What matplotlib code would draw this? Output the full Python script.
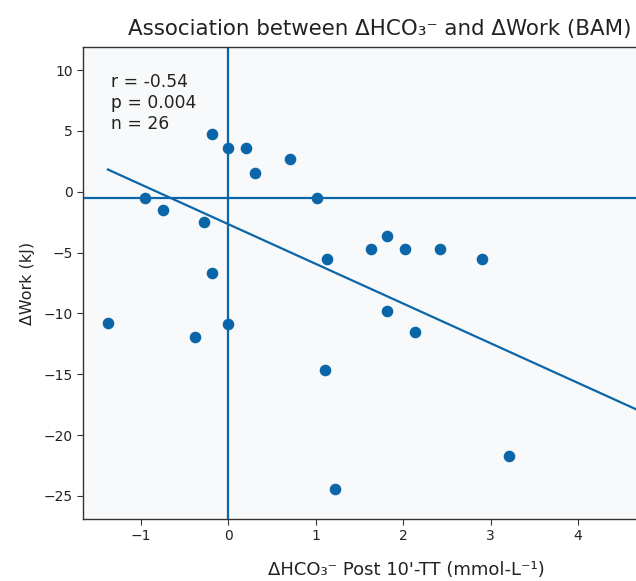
import matplotlib
matplotlib.use("Agg")
import numpy as np
import matplotlib.pyplot as plt

# data
hco3 = [-1.38, -0.95, -0.75, -0.28, -0.19, -0.19, -0.38, 0.0, 0.0, 0.20,
        0.30, 0.70, 1.01, 1.13, 1.11, 1.22, 1.63, 1.82, 1.82, 2.02,
        2.13, 2.42, 2.90, 3.21]
work = [-10.8, -0.54, -1.5, -2.5, 4.74, -6.66, -11.9, 3.62, -10.9, 3.62,
        1.57, 2.67, -0.54, -5.56, -14.65, -24.45, -4.67, -3.62, -9.8, -4.67,
        -11.55, -4.67, -5.56, -21.7]
fit_slope = -3.26
fit_intercept = -2.67
ref_x = 0.0
ref_y = -0.5
stats_text = "r = -0.54\np = 0.004\nn = 26"
x_ticks = [-1, 0, 1, 2, 3, 4]
y_ticks = [10, 5, 0, -5, -10, -15, -20, -25]

blue = "#0a66a8"

fig = plt.figure(figsize=(6.36, 5.81), dpi=100, facecolor="white")
# axes run past the right edge of the figure, as in the reference
ax = fig.add_axes([83 / 636, 62 / 581, 646 / 636, 472 / 581])
ax.set_facecolor("#f8f9fa")

ax.scatter(hco3, work, s=70, color=blue, zorder=3, linewidths=0)

xlim = (-1.665, 5.73)
xs = np.array([min(hco3), xlim[1]])
ax.plot(xs, fit_intercept + fit_slope * xs, color=blue, lw=1.6, zorder=2)
ax.axvline(ref_x, color=blue, lw=1.6, zorder=2)
ax.axhline(ref_y, color=blue, lw=1.6, zorder=2)

ax.set_xlim(*xlim)
ax.set_ylim(-26.9, 11.9)
ax.set_xticks(x_ticks)
ax.set_yticks(y_ticks)
ax.tick_params(labelsize=10, length=4, color="#333333", labelcolor="#222222")
for sp in ax.spines.values():
    sp.set_color("#333333")
    sp.set_linewidth(1.0)

ax.text(0.043, 0.945, stats_text, transform=ax.transAxes, fontsize=12.3,
        va="top", ha="left", color="#222222")

ax.set_title("Association between ΔHCO₃⁻ and ΔWork (BAM)", fontsize=15.4,
             color="#222222", pad=9, x=0.46)
ax.set_xlabel("ΔHCO₃⁻ Post 10'-TT (mmol-L⁻¹)", fontsize=13, color="#222222",
              labelpad=13)
ax.set_ylabel("ΔWork (kJ)", fontsize=11.4, color="#222222", labelpad=6)

fig.savefig("out.png", dpi=100, facecolor=fig.get_facecolor())
